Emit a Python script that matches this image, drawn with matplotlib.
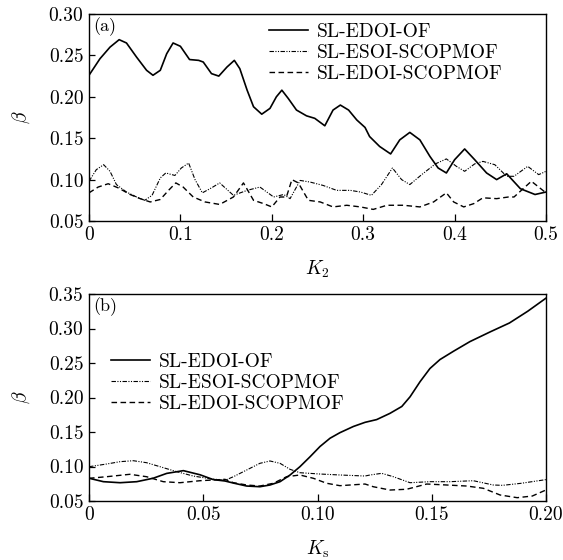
import numpy as np
import matplotlib
matplotlib.use('Agg')
import matplotlib.pyplot as plt

plt.rcParams['font.family'] = 'cmr10'
plt.rcParams['mathtext.fontset'] = 'cm'
plt.rcParams['axes.unicode_minus'] = False

labels = ['SL-EDOI-OF', 'SL-ESOI-SCOPMOF', 'SL-EDOI-SCOPMOF']

# panel (a): beta vs K2
k2_of = [0, 0.012, 0.023, 0.033, 0.041, 0.052, 0.063, 0.070, 0.078, 0.085, 0.092, 0.100,
         0.110, 0.120, 0.125, 0.134, 0.142, 0.151, 0.159, 0.165, 0.173, 0.180, 0.189, 0.198,
         0.205, 0.211, 0.218, 0.227, 0.238, 0.247, 0.258, 0.267, 0.275, 0.284, 0.293, 0.302,
         0.307, 0.318, 0.330, 0.340, 0.351, 0.362, 0.373, 0.382, 0.391, 0.400, 0.411, 0.422,
         0.435, 0.446, 0.457, 0.472, 0.488, 0.5]
b_of = [0.226, 0.246, 0.260, 0.269, 0.265, 0.248, 0.232, 0.226, 0.232, 0.252, 0.265, 0.261,
        0.245, 0.244, 0.242, 0.228, 0.225, 0.236, 0.244, 0.234, 0.208, 0.188, 0.179, 0.186,
        0.200, 0.208, 0.198, 0.184, 0.177, 0.174, 0.165, 0.184, 0.190, 0.184, 0.172, 0.163,
        0.152, 0.140, 0.131, 0.148, 0.157, 0.148, 0.128, 0.114, 0.108, 0.124, 0.137, 0.124,
        0.108, 0.100, 0.107, 0.089, 0.082, 0.085]

k2_esoi = [0, 0.008, 0.016, 0.023, 0.030, 0.041, 0.052, 0.061, 0.069, 0.078, 0.084, 0.094,
           0.101, 0.109, 0.116, 0.124, 0.134, 0.143, 0.158, 0.173, 0.187, 0.202, 0.213, 0.220,
           0.231, 0.242, 0.256, 0.271, 0.286, 0.297, 0.309, 0.320, 0.332, 0.342, 0.351, 0.364,
           0.379, 0.391, 0.402, 0.411, 0.422, 0.431, 0.444, 0.457, 0.465, 0.480, 0.492, 0.5]
b_esoi = [0.098, 0.112, 0.118, 0.110, 0.094, 0.085, 0.079, 0.075, 0.081, 0.102, 0.108, 0.105,
          0.114, 0.120, 0.100, 0.084, 0.090, 0.096, 0.081, 0.087, 0.091, 0.079, 0.082, 0.077,
          0.099, 0.097, 0.093, 0.087, 0.087, 0.085, 0.081, 0.094, 0.114, 0.100, 0.094, 0.106,
          0.119, 0.125, 0.116, 0.110, 0.119, 0.122, 0.118, 0.104, 0.104, 0.116, 0.106, 0.110]

k2_edoi = [0, 0.010, 0.021, 0.032, 0.045, 0.056, 0.067, 0.078, 0.087, 0.095, 0.103, 0.114,
           0.127, 0.143, 0.158, 0.169, 0.180, 0.191, 0.200, 0.209, 0.216, 0.222, 0.229, 0.240,
           0.253, 0.267, 0.282, 0.297, 0.311, 0.326, 0.344, 0.362, 0.377, 0.391, 0.399, 0.410,
           0.421, 0.431, 0.446, 0.459, 0.465, 0.484, 0.5]
b_edoi = [0.084, 0.091, 0.095, 0.090, 0.082, 0.077, 0.073, 0.076, 0.087, 0.096, 0.091, 0.079,
          0.073, 0.070, 0.079, 0.096, 0.075, 0.071, 0.067, 0.079, 0.079, 0.100, 0.096, 0.075,
          0.073, 0.067, 0.069, 0.067, 0.064, 0.069, 0.069, 0.067, 0.073, 0.084, 0.073, 0.067,
          0.071, 0.078, 0.077, 0.079, 0.079, 0.098, 0.084]

# panel (b): beta vs Ks
ks_of = [0, 0.0063, 0.0136, 0.0209, 0.0281, 0.034, 0.0413, 0.0486, 0.0544, 0.0595, 0.0632,
         0.069, 0.0748, 0.0792, 0.0836, 0.088, 0.0923, 0.0967, 0.1011, 0.1055, 0.1098, 0.1157,
         0.1208, 0.1259, 0.1317, 0.1369, 0.1405, 0.1449, 0.1492, 0.1536, 0.1595, 0.1667,
         0.1755, 0.184, 0.192, 0.2]
bs_of = [0.083, 0.078, 0.0765, 0.078, 0.083, 0.090, 0.094, 0.088, 0.081, 0.079, 0.076,
         0.0717, 0.0707, 0.0732, 0.078, 0.0877, 0.0997, 0.114, 0.129, 0.141, 0.149, 0.158,
         0.164, 0.168, 0.177, 0.187, 0.201, 0.223, 0.242, 0.255, 0.267, 0.281, 0.295, 0.308,
         0.325, 0.344]

ks_esoi = [0, 0.0077, 0.0136, 0.0194, 0.0252, 0.0311, 0.0384, 0.0456, 0.053, 0.0595, 0.0632,
           0.069, 0.0748, 0.0792, 0.0836, 0.088, 0.0923, 0.1011, 0.1098, 0.1208, 0.123, 0.1281,
           0.1332, 0.1405, 0.1492, 0.158, 0.1682, 0.1769, 0.181, 0.189, 0.2]
bs_esoi = [0.0997, 0.1036, 0.107, 0.1084, 0.1055, 0.0997, 0.0925, 0.0862, 0.0823, 0.0800,
           0.0852, 0.0949, 0.1046, 0.108, 0.1046, 0.0959, 0.091, 0.0891, 0.0877, 0.0862, 0.0877,
           0.0901, 0.0852, 0.0765, 0.078, 0.078, 0.0794, 0.0732, 0.0727, 0.0756, 0.081]

ks_edoi = [0, 0.0077, 0.0179, 0.0252, 0.0325, 0.0398, 0.0486, 0.0595, 0.0632, 0.069, 0.0748,
           0.0807, 0.0865, 0.0923, 0.0982, 0.104, 0.1098, 0.1208, 0.1244, 0.1317, 0.139, 0.1478,
           0.1565, 0.1653, 0.1726, 0.1799, 0.1874, 0.194, 0.2]
bs_edoi = [0.0829, 0.0852, 0.0887, 0.0852, 0.078, 0.0765, 0.0794, 0.0814, 0.0765, 0.0732,
           0.0717, 0.0757, 0.0852, 0.0877, 0.0829, 0.0757, 0.0722, 0.0746, 0.0707, 0.0659,
           0.067, 0.0746, 0.0732, 0.0717, 0.0684, 0.0587, 0.0548, 0.0572, 0.066]

styles = [dict(ls='-', lw=1.2),
          dict(ls=(0, (4, 1.3, 1, 1.3, 1, 1.3)), lw=0.8),
          dict(ls=(0, (4, 2.5)), lw=1.0)]

fig = plt.figure(figsize=(5.63, 5.6), dpi=100)
W, H = 563, 560
ax1 = fig.add_axes([89/W, 1 - 221/H, 457/W, 207/H])
ax2 = fig.add_axes([89/W, 1 - 501/H, 457/W, 207/H])

for x, y, st, lab in zip([k2_of, k2_esoi, k2_edoi], [b_of, b_esoi, b_edoi], styles, labels):
    ax1.plot(x, y, color='black', label=lab, **st)
for x, y, st, lab in zip([ks_of, ks_esoi, ks_edoi], [bs_of, bs_esoi, bs_edoi], styles, labels):
    ax2.plot(x, y, color='black', label=lab, **st)

ax1.set_xlim(0, 0.5)
ax1.set_ylim(0.05, 0.30)
ax1.set_xticks([0, 0.1, 0.2, 0.3, 0.4, 0.5])
ax1.set_xticklabels(['0', '0.1', '0.2', '0.3', '0.4', '0.5'])
ax1.set_yticks([0.05, 0.10, 0.15, 0.20, 0.25, 0.30])
ax1.set_yticklabels(['0.05', '0.10', '0.15', '0.20', '0.25', '0.30'])
ax1.set_xlabel(r'$K_2$', fontsize=14, labelpad=10)

ax2.set_xlim(0, 0.2)
ax2.set_ylim(0.05, 0.35)
ax2.set_xticks([0, 0.05, 0.10, 0.15, 0.20])
ax2.set_xticklabels(['0', '0.05', '0.10', '0.15', '0.20'])
ax2.set_yticks([0.05, 0.10, 0.15, 0.20, 0.25, 0.30, 0.35])
ax2.set_yticklabels(['0.05', '0.10', '0.15', '0.20', '0.25', '0.30', '0.35'])
ax2.set_xlabel(r'$K_\mathrm{s}$', fontsize=14, labelpad=10)

for ax, tag in [(ax1, '(a)'), (ax2, '(b)')]:
    ax.set_ylabel(r'$\beta$', fontsize=14, labelpad=12)
    ax.tick_params(axis='x', direction='in', length=5, width=0.9, labelsize=14, pad=4)
    ax.tick_params(axis='y', direction='in', length=4, width=0.9, labelsize=14, pad=4)
    for s in ax.spines.values():
        s.set_linewidth(1.0)
    ax.text(0.009, 0.985, tag, transform=ax.transAxes, fontsize=13, va='top', ha='left')

leg_kw = dict(frameon=False, fontsize=14, handlelength=2.0, handletextpad=0.45,
              labelspacing=0.15, borderpad=0, borderaxespad=0, loc='upper left')
ax1.legend(bbox_to_anchor=(0.394, 0.955), **leg_kw)
ax2.legend(bbox_to_anchor=(0.048, 0.715), **leg_kw)

fig.savefig('out.png', dpi=100)
